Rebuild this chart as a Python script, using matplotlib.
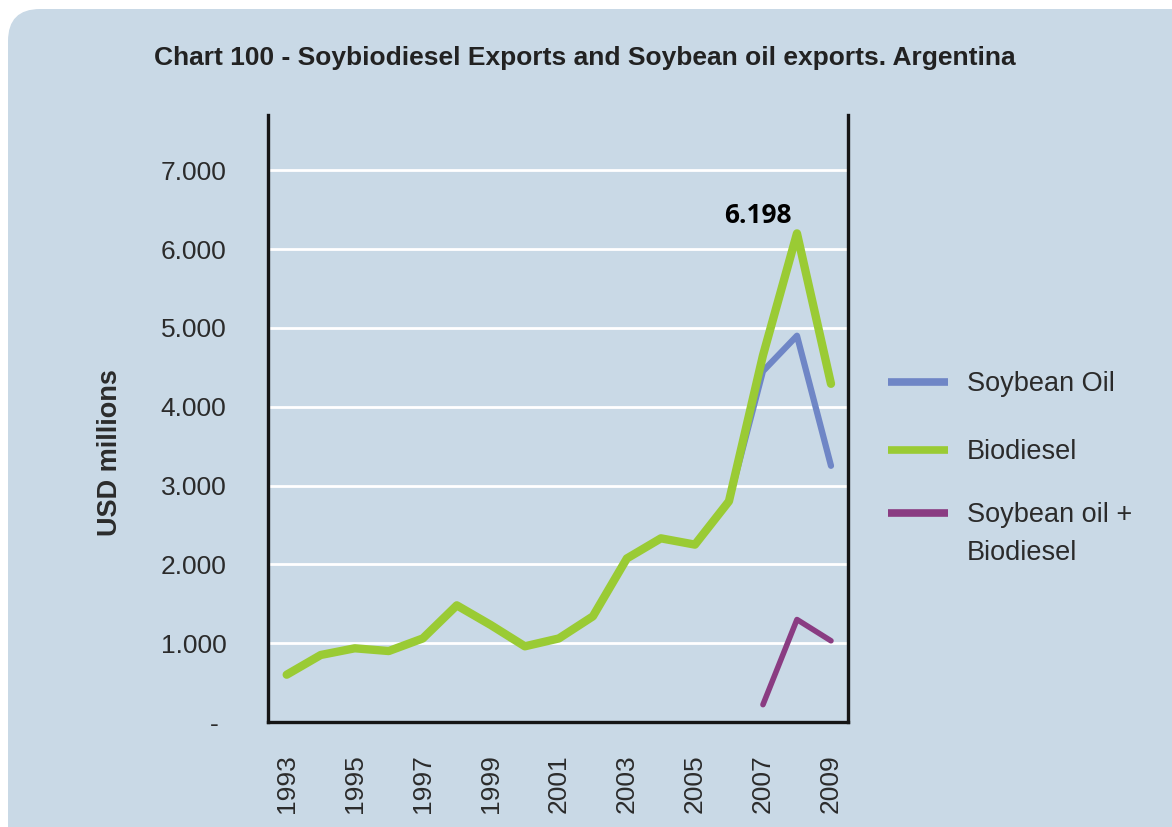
import matplotlib
matplotlib.use("Agg")
import matplotlib.pyplot as plt
from matplotlib.patches import FancyBboxPatch
from matplotlib.lines import Line2D

years = list(range(1993, 2010))
biodiesel = [600, 850, 935, 900, 1060, 1480, 1230, 960, 1060, 1340, 2075, 2330, 2250, 2800, 4650, 6198, 4290]
soy_years = [2006, 2007, 2008, 2009]
soybean_oil = [2800, 4450, 4900, 3250]
combo_years = [2007, 2008, 2009]
combo = [220, 1300, 1030]
ytick_vals = [0, 1000, 2000, 3000, 4000, 5000, 6000, 7000]
ytick_labels = ["- ", "1.000", "2.000", "3.000", "4.000", "5.000", "6.000", "7.000"]
xtick_years = list(range(1993, 2010, 2))
legend_labels = ["Soybean Oil", "Biodiesel", "Soybean oil +\nBiodiesel"]

plt.rcParams['font.family'] = ['Liberation Sans', 'DejaVu Sans']

BG = "#c9d9e6"
C_SOY = "#6f86c6"
C_BIO = "#9acb34"
C_COMBO = "#8a3c82"
TXT = "#2b2b2b"

fig = plt.figure(figsize=(11.72, 8.27), dpi=100)
fig.patch.set_facecolor("white")

bg_ax = fig.add_axes([0, 0, 1, 1], zorder=-10)
bg_ax.set_axis_off()
bg_ax.set_xlim(0, 1172)
bg_ax.set_ylim(827, 0)
panel = FancyBboxPatch((8, 9), 1250, 900,
                       boxstyle="round,pad=0,rounding_size=32",
                       facecolor=BG, edgecolor="none")
bg_ax.add_patch(panel)

# legend drawn in the background (pixel) coordinate system
leg_colors = [C_SOY, C_BIO, C_COMBO]
leg_rows = [382, 450, 513]
for lab, col, yy in zip(legend_labels, leg_colors, leg_rows):
    bg_ax.add_line(Line2D([888, 948], [yy, yy], color=col, linewidth=5.5, solid_capstyle="butt"))
    bg_ax.text(967, yy - 11, lab, ha="left", va="top", fontsize=19.5, color=TXT,
               linespacing=1.6, transform=bg_ax.transData)

ax = fig.add_axes([268/1172, 1 - 722/827, (848 - 268)/1172, (722 - 115)/827])
ax.set_facecolor(BG)
ax.set_xlim(1992.45, 2009.5)
ax.set_ylim(0, 7700)

ax.yaxis.grid(True, color="white", linewidth=2)
ax.set_axisbelow(True)

ax.plot(soy_years, soybean_oil, color=C_SOY, linewidth=4.5, solid_capstyle="round", zorder=3)
ax.plot(years, biodiesel, color=C_BIO, linewidth=6, solid_capstyle="round", zorder=4)
ax.plot(combo_years, combo, color=C_COMBO, linewidth=4, solid_capstyle="round", zorder=5)

ax.annotate("6.198", xy=(2008, biodiesel[years.index(2008)]), xytext=(-28, 3),
            textcoords="offset points", ha="center", va="bottom",
            fontsize=19, fontweight="bold", color="black", family=["Open Sans", "DejaVu Sans"])

ax.spines["top"].set_visible(False)
for s in ["left", "right", "bottom"]:
    ax.spines[s].set_color("#151515")
    ax.spines[s].set_linewidth(2.4)

ax.set_yticks(ytick_vals)
ax.set_yticklabels(ytick_labels)
ax.set_xticks(xtick_years)
ax.set_xticklabels([str(y) for y in xtick_years], rotation=90)
ax.tick_params(axis="both", length=0, labelsize=19, colors=TXT)
ax.tick_params(axis="y", pad=30)
ax.tick_params(axis="x", pad=23)

ax.set_ylabel("USD millions", fontsize=19.5, fontweight="bold", color=TXT)
ax.yaxis.set_label_coords((123 - 268) / 580, (722 - 453) / 607)

fig.text(585/1172, 1 - 58/827, "Chart 100 - Soybiodiesel Exports and Soybean oil exports. Argentina",
         ha="center", va="center", fontsize=19, fontweight="bold", color="#222222")

fig.savefig("out.png", dpi=100, facecolor="white")
